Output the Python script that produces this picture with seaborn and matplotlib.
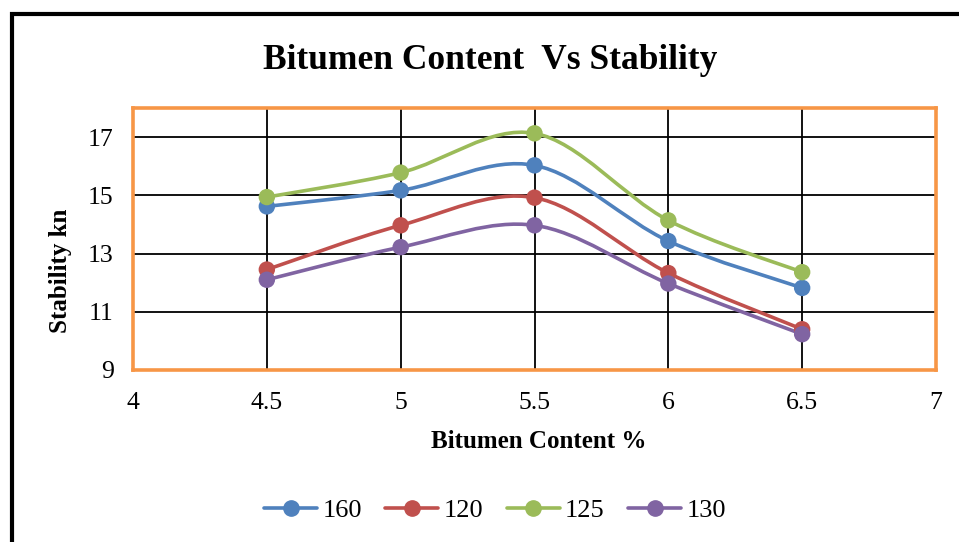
import matplotlib
matplotlib.use("Agg")
import matplotlib.pyplot as plt
import seaborn as sns
import numpy as np
import pandas as pd
from matplotlib.path import Path
from matplotlib.patches import PathPatch, Rectangle
from matplotlib.lines import Line2D

# data
bitumen = [4.5, 5.0, 5.5, 6.0, 6.5]
stab_160 = [14.62, 15.17, 16.03, 13.43, 11.82]
stab_120 = [12.45, 13.97, 14.92, 12.33, 10.40]
stab_125 = [14.94, 15.78, 17.13, 14.14, 12.36]
stab_130 = [12.10, 13.22, 13.97, 11.97, 10.23]
series_names = ["160", "120", "125", "130"]
x_ticks = [4, 4.5, 5, 5.5, 6, 6.5, 7]
y_ticks = [9, 11, 13, 15, 17]

colors = ["#4F81BD", "#C0504D", "#9BBB59", "#8064A2"]

df = pd.DataFrame({
    "Bitumen": bitumen * 4,
    "Stability": stab_160 + stab_120 + stab_125 + stab_130,
    "Series": [n for n in series_names for _ in bitumen],
})

sns.set_theme(style="white")
plt.rcParams["font.family"] = ["Liberation Serif", "DejaVu Serif"]
plt.rcParams.update({
    "text.color": "black",
    "xtick.color": "black",
    "ytick.color": "black",
    "axes.labelcolor": "black",
})


def smooth_path(xs, ys):
    # Excel-style smoothed line: cubic bezier with 1/6 tangent control points
    pts = np.column_stack([xs, ys])
    ext = np.vstack([pts[0], pts, pts[-1]])
    verts = [pts[0]]
    codes = [Path.MOVETO]
    for i in range(1, len(ext) - 2):
        p0, p1, p2, p3 = ext[i - 1], ext[i], ext[i + 1], ext[i + 2]
        verts += [p1 + (p2 - p0) / 6, p2 - (p3 - p1) / 6, p2]
        codes += [Path.CURVE4] * 3
    return Path(verts, codes)


fig = plt.figure(figsize=(9.59, 5.42), dpi=100)
ax = fig.add_axes([133 / 959, 1 - 370 / 542, 803 / 959, 262 / 542])

for name, col in zip(series_names, colors):
    sub = df[df["Series"] == name]
    ax.add_patch(PathPatch(smooth_path(sub["Bitumen"].values, sub["Stability"].values),
                           facecolor="none", edgecolor=col, lw=2.6, zorder=3))

sns.scatterplot(data=df, x="Bitumen", y="Stability", hue="Series",
                palette=colors, s=140, edgecolor="none", legend=False,
                ax=ax, zorder=4)

ax.set_xlim(4, 7)
ax.set_ylim(9, 18)
ax.set_xticks(x_ticks)
ax.set_xticklabels(["4", "4.5", "5", "5.5", "6", "6.5", "7"])
ax.set_yticks(y_ticks)
ax.grid(True, color="black", lw=1.3)
ax.tick_params(axis="both", length=0, labelsize=18.5)
ax.tick_params(axis="x", pad=16)
ax.tick_params(axis="y", pad=14)
for sp in ax.spines.values():
    sp.set_color("#F79646")
    sp.set_linewidth(2.6)
ax.set_xlabel("")
ax.set_ylabel("")

fig.text(539 / 959, 1 - 441 / 542, "Bitumen Content %", ha="center", va="center",
         fontsize=18, fontweight="bold")
fig.text(60 / 959, 1 - 271 / 542, "Stability kn", ha="center", va="center",
         rotation=90, fontsize=18, fontweight="bold")
fig.text(490 / 959, 1 - 60 / 542, "Bitumen Content  Vs Stability", ha="center",
         va="center", fontsize=25.5, fontweight="bold")

handles = [Line2D([0], [0], color=c, lw=2.6, marker="o", markersize=11) for c in colors]
fig.legend(handles, series_names, loc="center", bbox_to_anchor=(495 / 959, 1 - 510 / 542),
           ncol=4, frameon=False, fontsize=19, handlelength=2.0, columnspacing=0.9,
           handletextpad=0.2)

# outer chart border (only left and top visible in the crop)
fig.patches.append(Rectangle((12 / 959, -0.1), 1.2, 1.1 - 14 / 542, transform=fig.transFigure,
                             fill=False, edgecolor="black", lw=3, zorder=10))

fig.savefig("out.png", dpi=100)
